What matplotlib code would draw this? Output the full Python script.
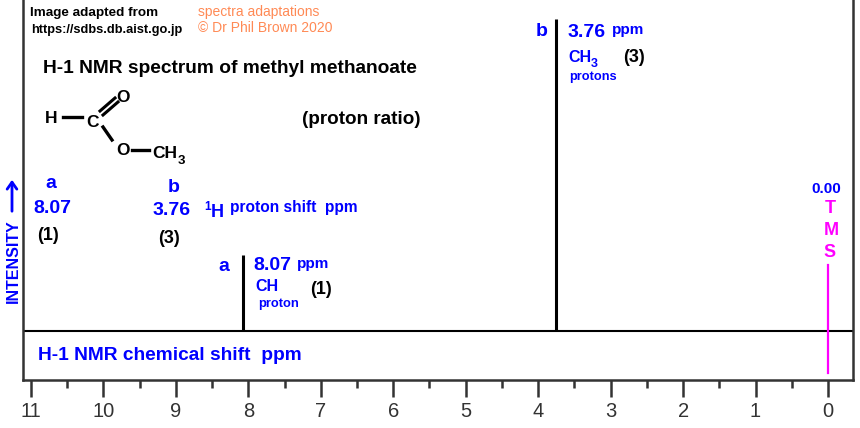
import matplotlib
matplotlib.use('Agg')
import matplotlib.pyplot as plt

# ---- data ----
shifts = [8.07, 3.76]
heights = [24.4, 100.0]
peak_labels = ['a', 'b']
ratios = ['(1)', '(3)']
tms_shift = 0.0
xticks_major = list(range(0, 12))
xtick_labels = [str(v) for v in xticks_major]
xticks_minor = [v + 0.5 for v in range(0, 11)]

BLUE = '#0000FF'
MAG = '#FF00FF'
ORANGE = '#FF8A55'
FONT = 'Liberation Sans'

W, H = 860, 428
fig = plt.figure(figsize=(8.6, 4.28), dpi=100)
fig.patch.set_facecolor('white')
L, R, T, B = 23, 853, 0, 380
ax = fig.add_axes([L / W, 1 - B / H, (R - L) / W, (B - T) / H])
ax.set_xlim(11.11, -0.345)
ax.set_ylim(-15.7, 106.1)

ax.axhline(0, color='black', lw=1.5, zorder=2)
ax.vlines(shifts, 0, heights, color='black', lw=2.2, zorder=3)
ax.axvline(tms_shift, ymin=(B - 373) / (B - T), ymax=(B - 265) / (B - T), color=MAG, lw=1.6)

for s in ['left', 'right', 'bottom']:
    ax.spines[s].set_color('#333333')
    ax.spines[s].set_linewidth(1.8)
ax.spines['top'].set_visible(False)
ax.set_yticks([])
ax.set_xticks(xticks_major)
ax.set_xticklabels(xtick_labels, fontfamily=FONT)
ax.set_xticks(xticks_minor, minor=True)
ax.tick_params(axis='x', which='major', direction='out', length=12, width=1.8,
               color='#333333', pad=4, labelsize=14.5, labelcolor='#333333')
ax.tick_params(axis='x', which='minor', direction='out', length=6, width=1.8,
               color='#333333')

# ---- overlay in pixel coordinates for annotations ----
ov = fig.add_axes([0, 0, 1, 1], zorder=5)
ov.set_xlim(0, W)
ov.set_ylim(H, 0)
ov.axis('off')
ov.patch.set_alpha(0)


def t(x, y, s, size, color='black', weight='bold', ha='left', va='baseline', **kw):
    ov.text(x, y, s, fontsize=size, color=color, fontweight=weight, ha=ha, va=va,
            fontfamily=FONT, **kw)


# credits
t(30, 16, 'Image adapted from', 9.7)
t(31, 33, 'https://sdbs.db.aist.go.jp', 9.2)
t(198, 16, 'spectra adaptations', 10, ORANGE, weight='normal')
t(198, 32, '\u00a9 Dr Phil Brown 2020', 10, ORANGE, weight='normal')

# title
t(43, 73, 'H-1 NMR spectrum of methyl methanoate', 13.8)

# structure
t(45, 123, 'H', 12.5)
t(86, 127, 'C', 12.5)
t(116, 102, 'O', 12.5)
t(116, 155, 'O', 12.5)
t(152, 158, 'CH', 12.5)
t(178, 164, '3', 9.5)
ov.plot([63, 82], [117, 117], color='black', lw=2.4)
ov.plot([100, 115], [111, 98], color='black', lw=2.2)
ov.plot([103, 118], [115, 102], color='black', lw=2.2)
ov.plot([103, 112], [127, 140], color='black', lw=2.4)
ov.plot([132, 149], [150, 150], color='black', lw=2.4)

t(302, 124, '(proton ratio)', 13.6)

# left summary
t(45, 188, peak_labels[0], 14, BLUE)
t(168, 192, peak_labels[1], 14, BLUE)
t(33, 213, f'{shifts[0]:.2f}', 14, BLUE)
t(153, 215, f'{shifts[1]:.2f}', 14, BLUE)
t(37, 240, ratios[0], 13)
t(158, 243, ratios[1], 13)
t(204, 210, '1', 8.5, BLUE)
t(211, 217, 'H', 13, BLUE)
t(230, 212, 'proton shift  ppm', 11.2, BLUE)

# peak a annotation
t(218, 271, peak_labels[0], 14, BLUE)
t(253, 270, f'{shifts[0]:.2f}', 14, BLUE)
t(297, 268, 'ppm', 11, BLUE)
t(255, 291, 'CH', 11.5, BLUE)
t(310, 294, ratios[0], 13)
t(258, 307, 'proton', 9.3, BLUE)

# peak b annotation
t(536, 36, peak_labels[1], 14, BLUE)
t(568, 37, f'{shifts[1]:.2f}', 14, BLUE)
t(612, 34, 'ppm', 11, BLUE)
t(568, 62, 'CH', 11.5, BLUE)
t(591, 67, '3', 9, BLUE)
t(623, 62, ratios[1], 13)
t(569, 80, 'protons', 9.2, BLUE)

# TMS
t(826, 193, '0.00', 11, BLUE, ha='center')
t(830, 213, 'T', 13, MAG, ha='center')
t(831, 235, 'M', 13, MAG, ha='center')
t(830, 257, 'S', 13, MAG, ha='center')

# axis labels
t(38, 360, 'H-1 NMR chemical shift  ppm', 13.8, BLUE)
t(13, 261, 'INTENSITY', 11.5, BLUE, rotation=90, ha='center', va='center')
ov.annotate('', xy=(12, 177), xytext=(12, 214),
            arrowprops=dict(arrowstyle='->,head_length=0.5,head_width=0.35',
                            color=BLUE, lw=2))

fig.savefig('out.png', dpi=100, facecolor='white')
